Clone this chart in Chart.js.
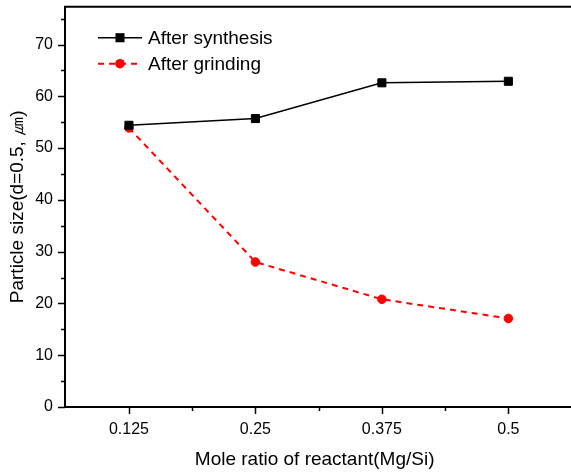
<!DOCTYPE html>
<html><head><meta charset="utf-8">
<script src="https://cdn.jsdelivr.net/npm/chart.js@4/dist/chart.umd.min.js"></script>
<style>html,body{margin:0;padding:0;background:#fff;overflow:hidden}</style>
</head><body>
<canvas id="c" width="571" height="474" style="width:571px;height:474px"></canvas>
<script>
const categories = [0.125, 0.25, 0.375, 0.5];
const afterSynthesis = [54.4, 55.7, 62.6, 62.9];
const afterGrinding = [53.9, 28.0, 20.8, 17.1];
const seriesLabels = ['After synthesis', 'After grinding'];
const xTickValues = [0.125, 0.1875, 0.25, 0.3125, 0.375, 0.4375, 0.5];
const xTickLabels = ['0.125', '', '0.25', '', '0.375', '', '0.5'];
const yTickValues = [0, 5, 10, 15, 20, 25, 30, 35, 40, 45, 50, 55, 60, 65, 70, 75];
const xTitle = 'Mole ratio of reactant(Mg/Si)';
const yTitle = 'Particle size(d=0.5, \u339B)';

const FONT = 'Arial, "Liberation Sans", sans-serif';

const framePlugin = {
  id: 'frame',
  afterDraw(chart) {
    const ctx = chart.ctx, ca = chart.chartArea;
    const xs = chart.scales.x, ys = chart.scales.y;
    ctx.save();
    ctx.strokeStyle = '#000';
    ctx.lineWidth = 1.5;
    xs.ticks.forEach((t, i) => {
      const px = Math.round(xs.getPixelForValue(t.value)) + 0.5;
      const len = xTickLabels[i] ? 7 : 4;
      ctx.beginPath(); ctx.moveTo(px, ca.bottom); ctx.lineTo(px, ca.bottom + len); ctx.stroke();
    });
    ys.ticks.forEach((t) => {
      const py = Math.round(ys.getPixelForValue(t.value)) + 0.5;
      const len = (t.value % 10 === 0) ? 7 : 4;
      ctx.beginPath(); ctx.moveTo(ca.left - len, py); ctx.lineTo(ca.left, py); ctx.stroke();
    });
    ctx.lineWidth = 2;
    ctx.beginPath();
    ctx.moveTo(chart.width, ca.top); ctx.lineTo(ca.left, ca.top);
    ctx.lineTo(ca.left, ca.bottom); ctx.lineTo(chart.width, ca.bottom);
    ctx.stroke();
    ctx.restore();

    chart.data.datasets.forEach((ds, i) => {
      const y = ca.top + 31 + i * 26;
      const x0 = ca.left + 33, x1 = ca.left + 77, xm = (x0 + x1) / 2;
      ctx.save();
      ctx.strokeStyle = ds.borderColor;
      ctx.lineWidth = ds.borderWidth;
      ctx.setLineDash(ds.borderDash || []);
      ctx.beginPath(); ctx.moveTo(x0, y); ctx.lineTo(x1, y); ctx.stroke();
      ctx.setLineDash([]);
      ctx.fillStyle = ds.pointBackgroundColor;
      if (ds.pointStyle === 'rect') {
        const s = Math.SQRT1_2 * ds.pointRadius + 0.5;
        ctx.fillRect(xm - s, y - s, 2 * s, 2 * s);
      } else {
        ctx.beginPath(); ctx.arc(xm, y, ds.pointRadius + 0.5, 0, Math.PI * 2); ctx.fill();
      }
      ctx.fillStyle = '#000';
      ctx.font = '19px ' + FONT;
      ctx.textBaseline = 'middle';
      ctx.textAlign = 'left';
      ctx.fillText(ds.label, ca.left + 83, y + 1);
      ctx.restore();
    });
  }
};

new Chart(document.getElementById('c'), {
  type: 'line',
  data: {
    datasets: [
      {
        label: seriesLabels[0],
        data: categories.map((c, i) => ({ x: c, y: afterSynthesis[i] })),
        borderColor: '#000', borderWidth: 1.5,
        pointStyle: 'rect', pointRadius: 5.7, pointBorderWidth: 1,
        pointBackgroundColor: '#000', pointBorderColor: '#000',
        tension: 0, clip: false
      },
      {
        label: seriesLabels[1],
        data: categories.map((c, i) => ({ x: c, y: afterGrinding[i] })),
        borderColor: '#ff0000', borderWidth: 2, borderDash: [6, 5],
        pointStyle: 'circle', pointRadius: 4.3, pointBorderWidth: 1,
        pointBackgroundColor: '#ff0000', pointBorderColor: '#ff0000',
        tension: 0, clip: false
      }
    ]
  },
  options: {
    responsive: false, animation: false, devicePixelRatio: 1,
    layout: { padding: { top: 6, left: 0, right: 0, bottom: 0 } },
    plugins: { legend: { display: false }, tooltip: { enabled: false } },
    scales: {
      x: {
        type: 'linear', min: 0.0618, max: 0.5553,
        afterBuildTicks: (s) => { s.ticks = xTickValues.map(v => ({ value: v })); },
        afterFit: (s) => { s.height = 67; s.paddingLeft = 0; s.paddingRight = 0; },
        grid: { display: false, drawTicks: false },
        border: { display: false },
        ticks: {
          autoSkip: false, maxRotation: 0, padding: 13, color: '#000',
          font: { family: FONT, size: 16 },
          callback: (v, i) => xTickLabels[i]
        },
        title: { display: true, text: xTitle, color: '#000', font: { family: FONT, size: 19 }, padding: { top: 4, bottom: 3 } }
      },
      y: {
        min: 0, max: 77.3,
        afterBuildTicks: (s) => { s.ticks = yTickValues.map(v => ({ value: v })); },
        afterFit: (s) => { s.width = 65; s.paddingTop = 0; s.paddingBottom = 0; },
        grid: { display: false, drawTicks: false },
        border: { display: false },
        ticks: {
          padding: 12, color: '#000',
          font: { family: FONT, size: 16 },
          callback: (v) => (v % 10 === 0 ? String(v) : '')
        },
        title: { display: true, text: yTitle, color: '#000', font: { family: FONT, size: 19 }, padding: { top: 6, bottom: 0 } }
      }
    }
  },
  plugins: [framePlugin]
});
</script>
</body></html>
